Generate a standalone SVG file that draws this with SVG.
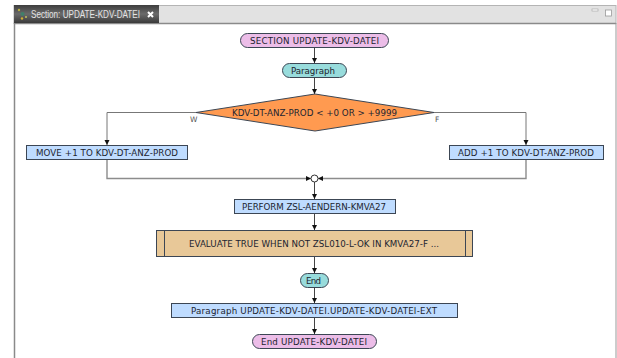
<svg xmlns="http://www.w3.org/2000/svg" width="617" height="358" viewBox="0 0 617 358">
<style>
text{font-family:"DejaVu Sans",sans-serif;font-size:8.7px;fill:#1c2430;text-anchor:middle}
.n{stroke:#3c4654;stroke-width:1}
.pink{fill:#ecbde8}.teal{fill:#98dcdc}.blue{fill:#bfdcff}.tan{fill:#e8c898}.or{fill:#ff9a50}
.c{fill:none;stroke:#444;stroke-width:1}
.h{fill:none;stroke:#777;stroke-width:1}
.g{fill:none;stroke:#8c8c8c;stroke-width:1.400}
.l{font-size:7.500px;fill:#555;text-anchor:start}
</style>
<defs>
<marker id="a" markerUnits="userSpaceOnUse" markerWidth="6" markerHeight="6" refX="5" refY="2.500" orient="auto"><path d="M0 0L5 2.500L0 5z" fill="#111"/></marker>
<linearGradient id="tab" x1="0" y1="0" x2="0" y2="1"><stop offset="0" stop-color="#3e3e3e"/><stop offset=".5" stop-color="#6a6a6a"/><stop offset="1" stop-color="#3a3a3a"/></linearGradient>
</defs>
<rect width="617" height="358" fill="#fff"/>
<g id="frame">
<rect x="14" y="5.500" width="602" height="18" fill="#e2e2e2" stroke="#b4b4b4"/>
<path d="M14.500 358V23.500H616" fill="none" stroke="#8a8a8a" stroke-width="1.500"/>
<path d="M616 23V358" stroke="#999" fill="none"/>
<rect x="592" y="9" width="6" height="2" fill="#fff" stroke="#aaa" stroke-width=".7"/>
<rect x="605.500" y="10" width="6" height="6" fill="#fff" stroke="#999" stroke-width=".8"/>
<rect x="14" y="5" width="145" height="18" fill="url(#tab)"/>
<circle cx="19" cy="10" r="1.200" fill="#b8b040"/><circle cx="22.500" cy="14" r="2" fill="#40806a"/><circle cx="22" cy="18.500" r="1.200" fill="#d0b030"/><circle cx="26" cy="17" r="1" fill="#c0c060"/>
<text x="31" y="18" textLength="109" lengthAdjust="spacingAndGlyphs" style="font-family:'Liberation Sans',sans-serif;font-size:10px;fill:#e4e4e4;text-anchor:start">Section: UPDATE-KDV-DATEI</text>
<path d="M148 12l5 5m0-5l-5 5" stroke="#fff" stroke-width="2" fill="none"/>
</g>
<g id="connectors">
<path class="c" d="M314.500 47.500V63" marker-end="url(#a)"/>
<path class="c" d="M314.500 77.500V94" marker-end="url(#a)"/>
<path class="h" d="M196 112.500H107V145" marker-end="url(#a)"/>
<path class="h" d="M434 112.500H526V145" marker-end="url(#a)"/>
<path class="g" d="M107 159.500V178.500H311" marker-end="url(#a)"/>
<path class="g" d="M526 159.500V178.500H318" marker-end="url(#a)"/>
<path class="c" d="M314.500 182V199" marker-end="url(#a)"/>
<path class="c" d="M314.500 213.500V230" marker-end="url(#a)"/>
<path class="c" d="M314.500 256.500V273" marker-end="url(#a)"/>
<path class="c" d="M314.500 287.500V303" marker-end="url(#a)"/>
<path class="c" d="M314.500 317.500V334" marker-end="url(#a)"/>
<text class="l" x="190" y="122">W</text>
<text class="l" x="435" y="122">F</text>
</g>
<g id="section-start"><rect class="n pink" x="240.500" y="33.500" width="148" height="14" rx="7"/><text x="314.500" y="44" textLength="129">SECTION UPDATE-KDV-DATEI</text></g>
<g id="paragraph"><rect class="n teal" x="282.500" y="63.500" width="64" height="14" rx="7"/><text x="313" y="74" textLength="44">Paragraph</text></g>
<g id="decision"><path class="n or" d="M196 112.500L315 94L434 112.500L315 131z"/><text x="314.500" y="116" textLength="165">KDV-DT-ANZ-PROD &lt; +0 OR &gt; +9999</text></g>
<g id="move"><rect class="n blue" x="26.500" y="145.500" width="161" height="14"/><text x="107" y="156" textLength="142">MOVE +1 TO KDV-DT-ANZ-PROD</text></g>
<g id="add"><rect class="n blue" x="449.500" y="145.500" width="154" height="14"/><text x="526" y="156" textLength="136">ADD +1 TO KDV-DT-ANZ-PROD</text></g>
<g id="merge"><circle cx="314.500" cy="178.500" r="3.500" fill="#fff" stroke="#333"/></g>
<g id="perform"><rect class="n blue" x="234.500" y="199.500" width="161" height="14"/><text x="314" y="210" textLength="144">PERFORM ZSL-AENDERN-KMVA27</text></g>
<g id="evaluate"><rect class="n tan" x="156.500" y="230.500" width="316" height="26"/><path class="n" d="M164.500 230.500V256.500M465.500 230.500V256.500"/><text x="314" y="247" textLength="250">EVALUATE TRUE WHEN NOT ZSL010-L-OK IN KMVA27-F ...</text></g>
<g id="end"><rect class="n teal" x="300.500" y="273.500" width="28" height="14" rx="7"/><text x="313.500" y="284" textLength="15">End</text></g>
<g id="paragraph-ext"><rect class="n blue" x="171.500" y="303.500" width="286" height="14"/><text x="314" y="314" textLength="246">Paragraph UPDATE-KDV-DATEI.UPDATE-KDV-DATEI-EXT</text></g>
<g id="section-end"><rect class="n pink" x="252.500" y="334.500" width="124" height="14" rx="7"/><text x="314" y="345" textLength="106">End UPDATE-KDV-DATEI</text></g>
</svg>
